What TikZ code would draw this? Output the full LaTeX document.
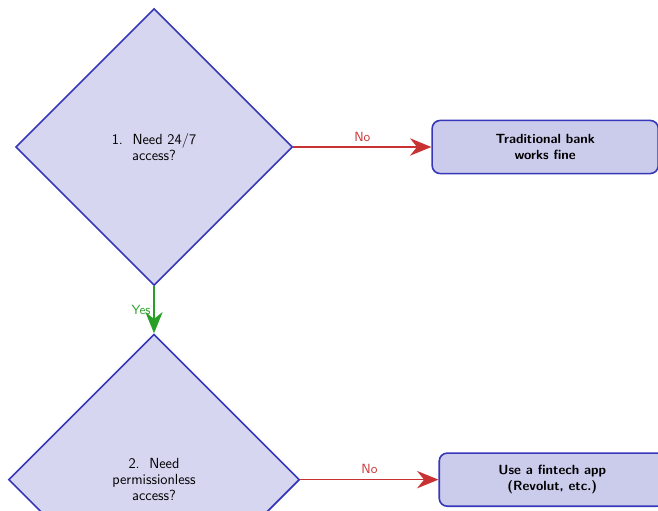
\documentclass[tikz,border=0pt,11pt]{standalone}
\usepackage{amsmath,amssymb}
\usepackage{tikz}
\usetikzlibrary{arrows.meta,positioning,shapes.geometric}

\definecolor{qfill}{RGB}{214,214,240}
\definecolor{bfill}{RGB}{203,203,236}
\definecolor{qline}{RGB}{55,55,185}
\definecolor{nored}{RGB}{200,50,50}
\definecolor{yesgreen}{RGB}{40,160,40}

\tikzset{
  question/.style={diamond, aspect=1, draw=qline, fill=qfill, line width=1.2pt,
    align=center, inner sep=31pt, font=\sffamily\fontsize{11}{12}\selectfont},
  answer/.style={rectangle, rounded corners=6pt, draw=qline, fill=bfill, line width=1.2pt,
    align=center, minimum width=5.96cm, minimum height=1.4cm, font=\sffamily\bfseries\small},
  arr/.style={line width=1.2pt, -{Stealth[length=16pt,width=13pt]}},
  lbl/.style={font=\sffamily\small}
}

\begin{document}
\begin{tikzpicture}
        \useasboundingbox (-4.06,3.875) rectangle (13.285,-9.569);
        \clip (-4.06,3.875) rectangle (13.285,-9.569);
        % decision nodes
        \node[question] (q1) at (0,0) {1.~\ Need 24/7\\access?};
        \node[question, below=1.24cm of q1] (q2) {2.~\ Need\\permissionless\\access?};
        % outcomes
        \node[answer, right=3.64cm of q1] (bank) {Traditional bank\\works fine};
        \node[answer, right=3.64cm of q2] (fintech) {Use a fintech app\\(Revolut, etc.)};
        % connectors
        \draw[arr, nored] (q1) -- node[lbl, above] {No} (bank);
        \draw[arr, nored] (q2) -- node[lbl, above] {No} (fintech);
        \draw[arr, yesgreen] (q1) -- node[lbl, left, inner sep=2pt] {Yes} (q2);
      \end{tikzpicture}
\end{document}
